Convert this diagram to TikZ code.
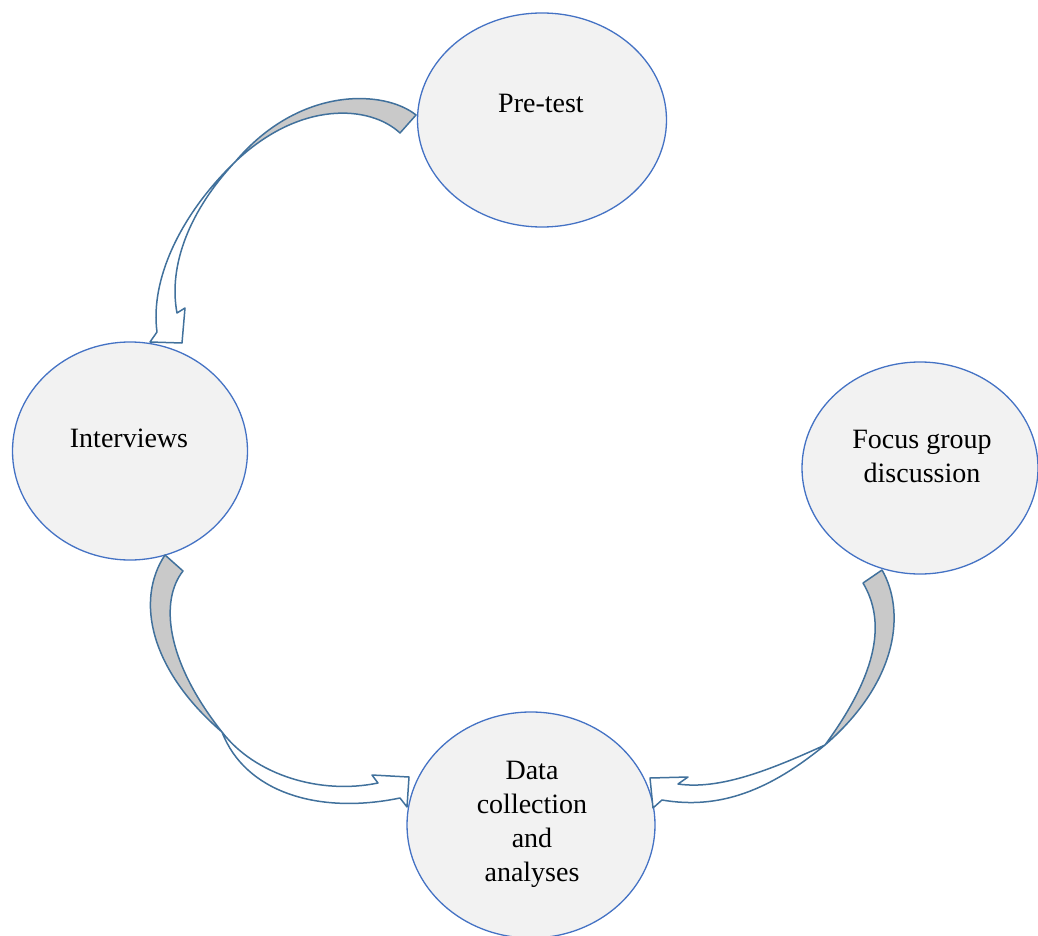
\documentclass[tikz,border=0pt]{standalone}
\usepackage{fontspec}
\setmainfont{Liberation Serif}
\usetikzlibrary{shapes.geometric,calc}
\definecolor{rim}{HTML}{4472C4}
\definecolor{bubble}{HTML}{F2F2F2}
\definecolor{edge}{HTML}{41719C}
\definecolor{back}{HTML}{C9C9C9}
\tikzset{
  stage/.style={ellipse, draw=rim, fill=bubble, line width=1.3pt, inner sep=0pt},
  caption/.style={font=\fontsize{28}{34}\selectfont, align=center, text=black},
  ribback/.style={draw=edge, fill=back, line width=1.5pt, line join=round},
  ribfront/.style={draw=edge, fill=white, line width=1.5pt, line join=round}
}
\begin{document}
\begin{tikzpicture}[x=1pt, y=-1pt]
  \useasboundingbox (0,0) rectangle (1038,936);

  % stages
  \node[stage, minimum width=249pt, minimum height=214pt] (pre)   at (542,120) {};
  \node[stage, minimum width=235pt, minimum height=218pt] (intv)  at (130,451) {};
  \node[stage, minimum width=236pt, minimum height=212pt] (focus) at (920,468) {};
  \node[stage, minimum width=248pt, minimum height=226pt] (data)  at (531,825) {};

  \node[caption] (pretxt)   at (541,103) {Pre-test};
  \node[caption] (intvtxt)  at (129,438) {Interviews};
  \node[caption] (focustxt) at (922,456) {Focus group\\discussion};
  \node[caption] (datatxt)  at (532,824) {Data\\collection\\and\\analyses};

  % twist points of the curved arrows
  \coordinate (tw1) at (235,162);
  \coordinate (tw2) at (222,732);
  \coordinate (tw3) at (825,745);

  % Pre-test -> Interviews
  \draw[ribback] (416,115) .. controls (385,90) and (300,85) .. (tw1)
    .. controls (300,100) and (370,105) .. (400,133) -- cycle;
  \draw[ribfront] (tw1) .. controls (180,215) and (150,280) .. (157,332)
    -- (150,342) -- (182,343) -- (185,308) -- (177,313)
    .. controls (168,265) and (190,210) .. (tw1);

  % Interviews -> Data collection
  \draw[ribback] (165,555) .. controls (135,600) and (150,670) .. (tw2)
    .. controls (165,660) and (160,600) .. (183,571) -- cycle;
  \draw[ribfront] (tw2) .. controls (245,792) and (318,815) .. (400,798)
    -- (407,807) -- (409,777) -- (372,775) -- (378,783)
    .. controls (320,795) and (255,775) .. (tw2);

  % Focus group -> Data collection
  \draw[ribback] (882,570) .. controls (905,610) and (900,680) .. (tw3)
    .. controls (880,670) and (885,620) .. (863,583) -- cycle;
  \draw[ribfront] (tw3) .. controls (770,790) and (720,810) .. (662,800)
    -- (653,808) -- (650,778) -- (688,777) -- (678,784)
    .. controls (720,790) and (770,770) .. (tw3);
\end{tikzpicture}
\end{document}
